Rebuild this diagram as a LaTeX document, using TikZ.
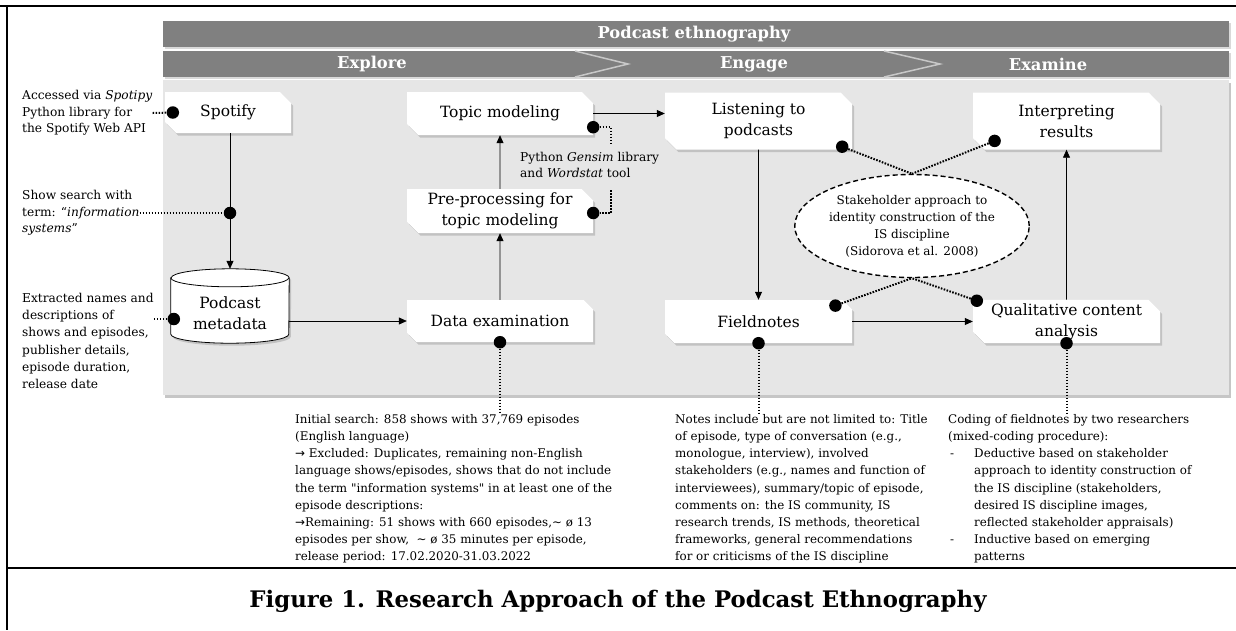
\documentclass[tikz,border=0pt]{standalone}
\usepackage{fontspec}
\setmainfont{DejaVu Serif}
\newfontfamily\arrowfont{DejaVu Sans}
\usetikzlibrary{shapes.misc,shapes.geometric,shadows,arrows.meta}

\definecolor{barcol}{RGB}{128,128,128}
\definecolor{panelcol}{RGB}{230,230,230}
\definecolor{chevcol}{RGB}{200,200,200}

\tikzset{
	stepbox/.style={chamfered rectangle, chamfered rectangle corners={north east,south west}, chamfered rectangle xsep=8pt, fill=white, inner sep=0pt, align=center, font=\fontsize{15.5}{21}\selectfont, drop shadow={shadow xshift=2pt, shadow yshift=-2.5pt, opacity=0.35}},
	stepfont/.style={align=center, inner sep=0pt, font=\fontsize{15.5}{21}\selectfont},
	head/.style={text=white, inner sep=0pt, font=\bfseries\fontsize{16.3}{19}\selectfont},
	chev/.style={draw=chevcol, line width=1.5pt},
	flow/.style={line width=0.8pt, -{Triangle[length=8pt, width=7pt]}},
	dotline/.style={line width=2pt, dash pattern=on 1.6pt off 1.4pt},
	dot/.style={circle, fill=black, inner sep=0pt, minimum size=12.5pt},
	sidenote/.style={align=left, inner sep=0pt, font=\fontsize{12.2}{16.5}\selectfont},
	note/.style={align=left, inner sep=0pt, font=\fontsize{11.9}{17.2}\selectfont},
	cyl/.style={fill=white, draw=black, line width=0.8pt, drop shadow={shadow xshift=2pt, shadow yshift=-2.5pt, opacity=0.35}}
}

\begin{document}
\begin{tikzpicture}[x=1pt, y=-1pt]
	\useasboundingbox (0,0) rectangle (1236,630);
	% frame of the figure
	\draw [line width=2.5pt] (0,6) -- (1236,6);
	\draw [line width=2.5pt] (7,6) -- (7,630);
	\draw [line width=2.5pt] (7,568) -- (1236,568);

	% background panel and phase bars
	\fill [panelcol, drop shadow={shadow xshift=2pt, shadow yshift=-2.5pt, opacity=0.45}] (163,80) rectangle (1229,395);
	\fill [barcol, drop shadow={shadow xshift=1.5pt, shadow yshift=-1.5pt, opacity=0.3}] (163,21) rectangle (1229,47);
	\fill [barcol, drop shadow={shadow xshift=1.5pt, shadow yshift=-1.5pt, opacity=0.3}] (163,51) rectangle (1229,77);
	\draw [chev] (575,51) -- (628,64) -- (575,77);
	\draw [chev] (884,51) -- (940,64) -- (884,77);
	\node [head] (title) at (694,34) {Podcast ethnography};
	\node [head] (explore) at (372,64) {Explore};
	\node [head] (engage) at (754,64) {Engage};
	\node [head] (examine) at (1048,64) {Examine};

	% process steps
	\node [stepbox, minimum width=126pt, minimum height=41pt] (spotify) at (228,112.5) {Spotify};
	\node [stepbox, minimum width=186pt, minimum height=43pt] (topic) at (500,113.5) {Topic modeling};
	\node [stepbox, minimum width=187pt, minimum height=57pt] (listen) at (758.5,121) {Listening to\\podcasts};
	\node [stepbox, minimum width=187pt, minimum height=57pt] (interp) at (1066.5,121) {Interpreting\\results};
	\node [stepbox, minimum width=186pt, minimum height=44pt] (prep) at (500,211) {Pre-processing for\\topic modeling};
	\node [stepbox, minimum width=186pt, minimum height=42pt] (exam) at (500,321) {Data examination};
	\node [stepbox, minimum width=187pt, minimum height=43pt] (field) at (758.5,321.5) {Fieldnotes};
	\node [stepbox, minimum width=187pt, minimum height=43pt] (qual) at (1066.5,321.5) {Qualitative content\\analysis};

	% podcast metadata store
	\node [inner sep=0pt, minimum width=118pt, minimum height=74pt] (meta) at (230,306) {};
	\draw [cyl] ([yshift=-9pt]meta.north west) -- ([yshift=9pt]meta.south west) arc [start angle=180, end angle=360, x radius=59pt, y radius=9pt] -- ([yshift=-9pt]meta.north east) arc [start angle=0, end angle=180, x radius=59pt, y radius=9pt] -- cycle;
	\draw [line width=0.8pt] ([yshift=-9pt]meta.north west) arc [start angle=180, end angle=360, x radius=59pt, y radius=9pt];
	\node [stepfont] (metatext) at ([yshift=-7pt]meta.center) {Podcast\\metadata};

	% flow
	\draw [flow] (spotify.south -| meta.north) -- (meta.north);
	\draw [flow] (exam.west -| meta.east) -- (exam.west);
	\draw [flow] (exam) -- (prep);
	\draw [flow] (prep) -- (topic);
	\draw [flow] (topic.east) -- (topic.east -| listen.west);
	\draw [flow] (listen) -- (field);
	\draw [flow] (field) -- (qual);
	\draw [flow] (qual) -- (interp);

	% theory lens
	\node [ellipse, draw, fill=white, line width=1.4pt, dash pattern=on 5pt off 3pt, minimum width=202pt, minimum height=103pt, inner sep=0pt, align=center, font=\fontsize{12}{17}\selectfont] (stake) at (912,226) {Stakeholder approach to\\identity construction of the\\IS discipline\\(Sidorova et al. 2008)};

	% side notes
	\node [sidenote, anchor=west] (accnote) at (22,113) {Accessed via \textit{Spotipy}\\Python library for\\the Spotify Web API};
	\node [sidenote, anchor=west] (searchnote) at (22,213) {Show search with\\term: “\textit{information}\\\textit{systems}”};
	\node [note, font=\fontsize{12.2}{17.2}\selectfont, anchor=north west] (metanote) at (22,293) {Extracted names and\\descriptions of\\shows and episodes,\\publisher details,\\episode duration,\\release date};
	\node [sidenote, anchor=west] (gensimnote) at (520,165) {Python \textit{Gensim} library\\and \textit{Wordstat} tool};
	\node [note, anchor=north west] (examnote) at (295,414) {Initial search: 858 shows with 37,769 episodes\\(English language)\\{\arrowfont →} Excluded: Duplicates, remaining non-English\\language shows/episodes, shows that do not include\\the term \textquotedbl information systems\textquotedbl{} in at least one of the\\episode descriptions:\\{\arrowfont →}Remaining: 51 shows with 660 episodes,\textasciitilde{} ø 13\\episodes per show, \ \textasciitilde{} ø 35 minutes per episode,\\release period: 17.02.2020-31.03.2022};
	\node [note, anchor=north west] (fieldnote) at (675,414) {Notes include but are not limited to: Title\\of episode, type of conversation (e.g.,\\monologue, interview), involved\\stakeholders (e.g., names and function of\\interviewees), summary/topic of episode,\\comments on: the IS community, IS\\research trends, IS methods, theoretical\\frameworks, general recommendations\\for or criticisms of the IS discipline};
	\node [note, anchor=north west] (qualnote) at (948,414) {Coding of fieldnotes by two researchers\\(mixed-coding procedure):\\\makebox[26pt][l]{\,-}Deductive based on stakeholder\\\hspace*{26pt}approach to identity construction of\\\hspace*{26pt}the IS discipline (stakeholders,\\\hspace*{26pt}desired IS discipline images,\\\hspace*{26pt}reflected stakeholder appraisals)\\\makebox[26pt][l]{\,-}Inductive based on emerging\\\hspace*{26pt}patterns};

	% annotation dots
	\node [dot] (dspot) at ([xshift=8pt]spotify.west) {};
	\node [dot] (dsearch) at (meta.north |- searchnote.east) {};
	\node [dot] (dmeta) at ([shift={(3pt,-13pt)}]meta.west) {};
	\node [dot] (dtopic) at ([yshift=8pt]topic.south east) {};
	\node [dot] (dprep) at ([yshift=-2pt]prep.east) {};
	\node [dot] (dlisten) at ([shift={(-10pt,3pt)}]listen.south east) {};
	\node [dot] (dinterp) at ([shift={(16pt,3pt)}]interp.south west) {};
	\node [dot] (dfield) at ([shift={(-12pt,-1pt)}]field.north east) {};
	\node [dot] (dqual) at ([shift={(4pt,-1pt)}]qual.north west) {};
	\node [dot] (dexam) at (exam.south) {};
	\node [dot] (dfieldb) at (field.south) {};
	\node [dot] (dqualb) at (qual.south) {};
	\coordinate (gtop) at (611,143);
	\coordinate (gbot) at (611,190);

	% dotted annotation links
	\draw [dotline] (accnote.east) -- (dspot);
	\draw [dotline] (searchnote.east) -- (dsearch);
	\draw [dotline] (metanote.east |- dmeta) -- (dmeta);
	\draw [dotline] (dtopic) -| (gtop);
	\draw [dotline] (gbot) |- (dprep);
	\draw [dotline] (dlisten) -- (stake.north);
	\draw [dotline] (dinterp) -- (stake.north);
	\draw [dotline] (dfield) -- (stake.south);
	\draw [dotline] (dqual) -- (stake.south);
	\draw [dotline] (dexam) -- (dexam |- examnote.north);
	\draw [dotline] (dfieldb) -- (dfieldb |- fieldnote.north);
	\draw [dotline] (dqualb) -- (dqualb |- qualnote.north);

	\node [font=\bfseries\fontsize{22.8}{26}\selectfont] (caption) at (618,601) {Figure 1. Research Approach of the Podcast Ethnography};
\end{tikzpicture}
\end{document}
